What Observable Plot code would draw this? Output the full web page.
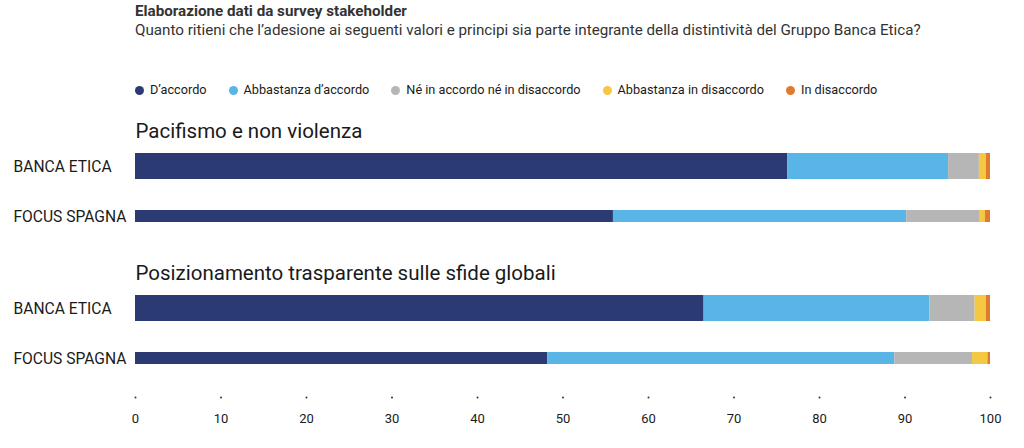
<!DOCTYPE html>
<html>
<head>
<meta charset="utf-8">
<script src="https://cdn.jsdelivr.net/npm/d3@7"></script>
<script src="https://cdn.jsdelivr.net/npm/@observablehq/plot@0.6"></script>
<style>
  body { margin: 0; background: #fff; font-family: Roboto, "Noto Sans", sans-serif; color: #1a1a1a; }
  #header { position: relative; height: 108px; width: 1024px; }
  #title { position: absolute; left: 135px; top: 3px; font-size: 15.2px; font-weight: bold; line-height: 17px; color: #333; }
  #subtitle { position: absolute; left: 135px; top: 21px; font-size: 15.2px; line-height: 18px; color: #333; }
  #legend { position: absolute; left: 135px; top: 81px; display: flex; font-size: 12.7px; line-height: 18px; }
  .item { display: flex; align-items: center; margin-right: 22px; }
  .sw { width: 9px; height: 9px; border-radius: 50%; margin-right: 6px; }
</style>
</head>
<body>
<div id="header">
  <div id="title">Elaborazione dati da survey stakeholder</div>
  <div id="subtitle">Quanto ritieni che l’adesione ai seguenti valori e principi sia parte integrante della distintività del Gruppo Banca Etica?</div>
  <div id="legend"></div>
</div>
<div id="chart"></div>
<script>
const groups = ["Pacifismo e non violenza", "Posizionamento trasparente sulle sfide globali"];
const entities = ["BANCA ETICA", "FOCUS SPAGNA"];
const responses = ["D’accordo", "Abbastanza d’accordo", "Né in accordo né in disaccordo", "Abbastanza in disaccordo", "In disaccordo"];
const colors = ["#2b3a73", "#58b5e6", "#b6b6b6", "#f4c843", "#e07b2e"];
// rows order: [group0/BE, group0/FS, group1/BE, group1/FS]
const dAccordo          = [76.3, 55.9, 66.5, 48.2];
const abbastanzaAccordo = [18.8, 34.3, 26.4, 40.6];
const neutro            = [3.6, 8.6, 5.3, 9.1];
const abbDisaccordo     = [0.8, 0.6, 1.3, 1.8];
const disaccordo        = [0.5, 0.6, 0.5, 0.3];
const xTicks = [0, 10, 20, 30, 40, 50, 60, 70, 80, 90, 100];

const series = [dAccordo, abbastanzaAccordo, neutro, abbDisaccordo, disaccordo];
const rows = [];
groups.forEach((g, gi) => entities.forEach((e, ei) => rows.push({group: g, entity: e, idx: gi * 2 + ei})));
const data = [];
rows.forEach(r => series.forEach((s, si) => data.push({group: r.group, entity: r.entity, response: responses[si], value: s[r.idx]})));

// legend
const legend = document.getElementById("legend");
responses.forEach((r, i) => {
  const it = document.createElement("div");
  it.className = "item";
  it.innerHTML = `<span class="sw" style="background:${colors[i]}"></span><span>${r}</span>`;
  legend.appendChild(it);
});

const stackOpts = () => Plot.stackX({
  x: "value", y: "entity", fy: "group", fill: "response", order: responses
});

const chart = Plot.plot({
  width: 1024,
  height: 340,
  marginLeft: 135,
  marginRight: 34,
  marginTop: 33,
  marginBottom: 65,
  style: {fontFamily: "Roboto, 'Noto Sans', sans-serif", color: "#1a1a1a", background: "#fff"},
  x: {domain: [0, 100], label: null},
  y: {domain: entities, padding: 0, axis: null},
  fy: {domain: groups, paddingInner: 0.296, paddingOuter: 0, axis: null},
  color: {domain: responses, range: colors},
  marks: [
    Plot.barX(data.filter(d => d.entity === entities[0]), {...stackOpts(), insetTop: 12, insetBottom: 12}),
    Plot.barX(data.filter(d => d.entity === entities[1]), {...stackOpts(), insetTop: 19, insetBottom: 19}),
    Plot.text(groups, {fy: d => d, text: d => d, frameAnchor: "top-left", textAnchor: "start", lineAnchor: "middle", dy: -10, fontSize: 20.5, fill: "#1a1a1a"}),
    Plot.text(rows, {y: "entity", fy: "group", text: "entity", frameAnchor: "left", textAnchor: "start", dx: -122, fontSize: 15.6, fill: "#1a1a1a"}),
    Plot.dot(xTicks, {x: d => d, fy: xTicks.map(() => groups[1]), frameAnchor: "bottom", dy: 14, r: 1, fill: "#333", stroke: null}),
    Plot.axisX({ticks: xTicks, tickSize: 0, tickPadding: 30, fontSize: 13, tickFormat: d => d, label: null})
  ]
});
document.getElementById("chart").appendChild(chart);
</script>
</body>
</html>
